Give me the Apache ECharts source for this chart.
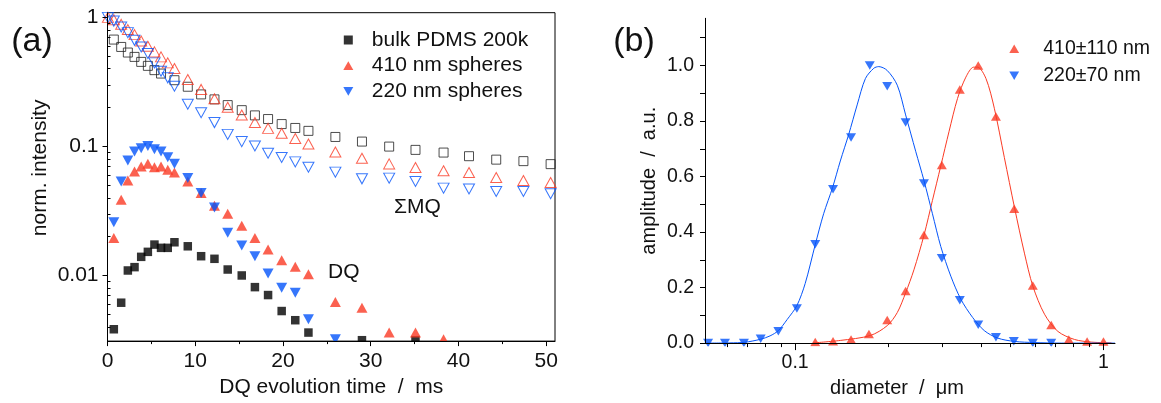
<!DOCTYPE html>
<html><head><meta charset="utf-8">
<script src="https://cdn.jsdelivr.net/npm/echarts@6/dist/echarts.min.js"></script>
<style>html,body{margin:0;padding:0;background:#fff}#c{width:1161px;height:403px}</style>
</head><body><div id="c"></div>
<script>
// ---------- panel (a): DQ build-up and sum-MQ decay ----------
const mqTime = [0.05,0.72,1.56,2.32,3.08,3.84,4.6,5.35,6.1,6.87,7.63,9.15,10.67,12.19,13.7,15.3,16.8,18.3,19.85,21.4,22.9,25.97,29.0,32.1,35.1,38.3,41.2,44.3,47.4,50.5];
const mqBulk = [null,0.673,0.590,0.534,0.494,0.452,0.421,0.390,0.367,null,0.326,0.290,0.253,0.2315,0.209,0.191,0.174,0.163,0.149,0.139,0.132,0.1184,0.109,0.0997,0.094,0.0896,0.084,0.079,0.0769,0.0729];
const mq410 = [1.0,0.96,0.883,0.804,0.735,0.656,0.597,0.540,0.494,0.444,0.402,0.330,0.2765,0.234,0.201,0.175,0.153,0.138,0.1265,0.115,0.1045,0.0904,0.081,0.0732,0.0686,0.0647,0.0628,0.0574,0.0544,0.0525];
const mq220 = [1.0,0.936,0.842,0.762,0.664,0.590,0.525,0.444,0.383,0.340,0.293,0.212,0.1824,0.153,0.124,0.109,0.1009,0.0886,0.082,0.0759,0.069,0.0632,0.0561,0.0568,0.0535,0.0475,0.0468,0.0448,0.0448,0.043];

const dqTime = [0.72,1.56,2.32,3.08,3.84,4.6,5.35,6.1,6.87,7.63,9.15,10.67,12.19,13.7,15.3,16.8,18.3,19.85,21.4,22.9,25.97,29.0,32.1,35.1,38.3];
const dqBulk = [0.00383,0.00615,0.01093,0.0116,0.01394,0.01524,0.01735,0.01637,0.01637,0.01808,0.01683,0.0141,0.01346,0.01112,0.0100,0.00812,0.00705,0.0053,0.0045,0.00361,null,0.00315,null,0.00315,null];
const dq410 = [0.01955,0.0386,0.0544,0.0639,0.0698,0.0733,0.0691,0.0698,0.0659,0.0628,0.0535,0.0435,0.0347,0.0301,0.0243,0.01955,0.0159,0.0131,0.01167,0.0102,0.00622,0.00563,0.00361,0.00361,0.0032];
const dq220 = [0.0258,0.0535,0.0777,0.0912,0.0969,0.1009,0.0951,0.0912,0.0826,0.0733,0.0568,0.0435,0.0337,0.0214,0.0171,0.0141,0.01036,0.00803,0.00734,0.00457,0.0032,null,null,null,null];

const aXMajor = [0,10,20,30,40,50];
const aXMinor = [5,15,25,35,45];
const aYMajor = [0.01,0.1,1];
const aYMinor = [0.004,0.005,0.006,0.007,0.008,0.009,0.02,0.03,0.04,0.05,0.06,0.07,0.08,0.09,0.2,0.3,0.4,0.5,0.6,0.7,0.8,0.9];

// ---------- panel (b): size distributions ----------
const dBlue = [0.0522,0.0592,0.0682,0.0773,0.0882,0.1013,0.1162,0.1327,0.1518,0.1746,0.1989,0.2282,0.2617,0.299,0.342,0.3925,0.448,0.512,0.590,0.677];
const ampBlue = [0,0,0,0.0153,0.0427,0.1246,0.356,0.554,0.741,1.0,0.925,0.795,0.575,0.306,0.154,0.0665,0.0214,0.007,0,0];
const dRed = [0.1162,0.1327,0.1518,0.1735,0.1989,0.2282,0.2617,0.299,0.342,0.3925,0.448,0.5135,0.590,0.677,0.772,0.885,1.0];
const ampRed = [0.0036,0.0071,0.0132,0.033,0.083,0.1875,0.389,0.642,0.9135,1.0,0.816,0.484,0.2075,0.065,0.013,0.006,0.006];

const fitBlueD = [0.0509,0.0614,0.0687,0.0773,0.0829,0.0882,0.0942,0.1013,0.1078,0.1162,0.1237,0.1323,0.1401,0.1491,0.1589,0.1690,0.1799,0.1867,0.1989,0.2144,0.2282,0.2460,0.2618,0.2788,0.2967,0.3198,0.3447,0.3763,0.4106,0.4540,0.5142,0.5974,0.730,1.09];
const fitBlueA = [0,0.0007,0.003,0.014,0.026,0.045,0.085,0.135,0.215,0.355,0.466,0.561,0.656,0.751,0.858,0.953,0.990,0.996,0.982,0.929,0.822,0.691,0.585,0.466,0.348,0.241,0.158,0.0925,0.045,0.018,0.006,0.002,0,0];
const fitRedD = [0.1144,0.1401,0.1754,0.1989,0.2144,0.2282,0.2428,0.2618,0.2788,0.2967,0.3157,0.3362,0.3578,0.3792,0.3907,0.4158,0.4426,0.4771,0.5142,0.5542,0.5902,0.6439,0.7118,0.8061,0.914,1.062];
const fitRedA = [0.0007,0.0096,0.0274,0.063,0.110,0.181,0.264,0.389,0.514,0.638,0.763,0.881,0.958,0.994,0.994,0.953,0.846,0.668,0.490,0.324,0.205,0.104,0.042,0.013,0.0036,0.0007];

const bXMajor = [0.1,1];
const bXMinor = [0.06,0.07,0.08,0.09,0.2,0.3,0.4,0.5,0.6,0.7,0.8,0.9];
const bYTicks = [0,0.1,0.2,0.3,0.4,0.5,0.6,0.7,0.8,0.9,1.0,1.1];
const bYLabels = [0,0.2,0.4,0.6,0.8,1.0];

// ---------- styling ----------
const FONT = 'Liberation Sans';
const TXT = '#111';
const RED = '#fa3a24';
const BLUE = '#0454fa';
const SQ = 'path://M0,0L10,0L10,10L0,10Z';
const UP = 'path://M5,0L10,8.66L0,8.66Z';
const DOWN = 'path://M0,0L10,0L5,8.66Z';

function pairs(xs, ys) {
  const out = [];
  xs.forEach((x, i) => { if (ys[i] !== null && ys[i] !== undefined) out.push([x, ys[i]]); });
  return out;
}
const labA = {fontFamily: FONT, fontSize: 21, color: TXT};
const labB = {fontFamily: FONT, fontSize: 19.5, color: TXT};
const nameB = {fontFamily: FONT, fontSize: 20, color: TXT};
const axLine = {show: true, onZero: false, lineStyle: {color: '#000', width: 1}};
const tickStyle = {color: '#000', width: 1};

const chart = echarts.init(document.getElementById('c'), null, {renderer: 'canvas'});
const option = {
  animation: false,
  backgroundColor: '#fff',
  textStyle: {fontFamily: FONT},
  grid: [
    {left: 107.5, top: 12.7, width: 447.5, height: 328.8, show: true, borderColor: '#000', borderWidth: 1, backgroundColor: 'transparent'},
    {left: 705, top: 18.3, width: 410, height: 327.4, show: false}
  ],
  xAxis: [
    {gridIndex: 0, type: 'value', min: 0, max: 51, position: 'bottom', z: 60,
      axisLine: axLine,
      axisTick: {show: true, inside: false, length: 5, customValues: aXMajor, lineStyle: tickStyle},
      axisLabel: Object.assign({customValues: aXMajor, margin: 10}, labA),
      splitLine: {show: false},
      name: 'DQ evolution time  /  ms', nameLocation: 'middle', nameGap: 30, nameTextStyle: labA},
    {gridIndex: 0, type: 'value', min: 0, max: 51, position: 'bottom', z: 60,
      axisLine: {show: false, onZero: false},
      axisTick: {show: true, inside: false, length: 3, customValues: aXMinor, lineStyle: tickStyle},
      axisLabel: {show: false}, splitLine: {show: false}},
    {gridIndex: 1, type: 'log', logBase: 10, min: 0.051, max: 1.09, position: 'bottom', z: 60,
      axisLine: axLine,
      axisTick: {show: true, inside: false, length: 7, customValues: bXMajor, lineStyle: tickStyle},
      axisLabel: Object.assign({customValues: bXMajor, margin: 10, formatter: v => String(v)}, labB),
      splitLine: {show: false}, minorTick: {show: false},
      name: 'diameter  /  μm', nameLocation: 'middle', nameGap: 28,
      nameTextStyle: Object.assign({padding: [0, 26, 0, 0]}, nameB)},
    {gridIndex: 1, type: 'log', logBase: 10, min: 0.051, max: 1.09, position: 'bottom', z: 60,
      axisLine: {show: false, onZero: false},
      axisTick: {show: true, inside: false, length: 4, customValues: bXMinor, lineStyle: tickStyle},
      axisLabel: {show: false}, splitLine: {show: false}}
  ],
  yAxis: [
    {gridIndex: 0, type: 'log', logBase: 10, min: 0.0031, max: 1.087, position: 'left', z: 60,
      axisLine: axLine,
      axisTick: {show: true, inside: false, length: 5, customValues: aYMajor, lineStyle: tickStyle},
      axisLabel: Object.assign({customValues: aYMajor, margin: 9, formatter: v => String(v)}, labA),
      splitLine: {show: false}, minorTick: {show: false},
      name: 'norm. intensity', nameLocation: 'middle', nameGap: 57,
      nameTextStyle: Object.assign({padding: [0, 0, 0, 18]}, labA)},
    {gridIndex: 0, type: 'log', logBase: 10, min: 0.0031, max: 1.087, position: 'left', z: 60,
      axisLine: {show: false, onZero: false},
      axisTick: {show: true, inside: true, length: 3, customValues: aYMinor, lineStyle: tickStyle},
      axisLabel: {show: false}, splitLine: {show: false}},
    {gridIndex: 1, type: 'value', min: 0, max: 1.17, position: 'left', z: 60,
      axisLine: axLine,
      axisTick: {show: true, inside: false, length: 5, customValues: bYTicks, lineStyle: tickStyle},
      axisLabel: Object.assign({customValues: bYLabels, margin: 11, formatter: v => v.toFixed(1)}, labB),
      splitLine: {show: false},
      name: 'amplitude  /  a.u.', nameLocation: 'middle', nameGap: 46, nameTextStyle: nameB}
  ],
  legend: [
    {data: ['bulk PDMS 200k', '410 nm spheres', '220 nm spheres'], orient: 'vertical',
      left: 343.3, top: 29.5, padding: 0, itemWidth: 10, itemHeight: 9, itemGap: 4.7,
      selectedMode: false, textStyle: Object.assign({padding: [0, 0, 0, 13.5]}, labA)},
    {data: ['410±110 nm', '220±70 nm'], orient: 'vertical',
      left: 1009.3, top: 38.8, padding: 0, itemWidth: 10, itemHeight: 8.5, itemGap: 7,
      selectedMode: false, textStyle: Object.assign({padding: [0, 0, 0, 19]}, labB)}
  ],
  series: [
    {name: 'ΣMQ bulk PDMS 200k', type: 'scatter', xAxisIndex: 0, yAxisIndex: 0, data: pairs(mqTime, mqBulk),
      symbol: SQ, symbolSize: 9, itemStyle: {color: 'rgba(255,255,255,0)', borderColor: '#222', borderWidth: 1}},
    {name: 'ΣMQ 410 nm spheres', type: 'scatter', xAxisIndex: 0, yAxisIndex: 0, data: pairs(mqTime, mq410),
      symbol: UP, symbolSize: [11, 10], itemStyle: {color: 'rgba(255,255,255,0)', borderColor: RED, borderWidth: 1}},
    {name: 'ΣMQ 220 nm spheres', type: 'scatter', xAxisIndex: 0, yAxisIndex: 0, data: pairs(mqTime, mq220),
      symbol: DOWN, symbolSize: [11, 10], itemStyle: {color: 'rgba(255,255,255,0)', borderColor: BLUE, borderWidth: 1}},
    {name: 'bulk PDMS 200k', type: 'scatter', xAxisIndex: 0, yAxisIndex: 0, data: pairs(dqTime, dqBulk),
      symbol: SQ, symbolSize: 8.5, itemStyle: {color: '#000'}},
    {name: '410 nm spheres', type: 'scatter', xAxisIndex: 0, yAxisIndex: 0, data: pairs(dqTime, dq410),
      symbol: UP, symbolSize: [11, 10], itemStyle: {color: RED}},
    {name: '220 nm spheres', type: 'scatter', xAxisIndex: 0, yAxisIndex: 0, data: pairs(dqTime, dq220),
      symbol: DOWN, symbolSize: [11, 10], itemStyle: {color: BLUE}},
    {name: 'fit 410', type: 'line', xAxisIndex: 2, yAxisIndex: 2, data: pairs(fitRedD, fitRedA),
      showSymbol: false, smooth: 0.3, lineStyle: {color: RED, width: 1}, itemStyle: {color: RED}, z: 2},
    {name: 'fit 220', type: 'line', xAxisIndex: 2, yAxisIndex: 2, data: pairs(fitBlueD, fitBlueA),
      showSymbol: false, smooth: 0.3, lineStyle: {color: BLUE, width: 1}, itemStyle: {color: BLUE}, z: 2},
    {name: '410±110 nm', type: 'scatter', xAxisIndex: 2, yAxisIndex: 2, data: pairs(dRed, ampRed),
      symbol: UP, symbolSize: [10, 8.5], itemStyle: {color: RED}, z: 3},
    {name: '220±70 nm', type: 'scatter', xAxisIndex: 2, yAxisIndex: 2, data: pairs(dBlue, ampBlue),
      symbol: DOWN, symbolSize: [10, 8.5], itemStyle: {color: BLUE}, z: 3}
  ],
  graphic: {
    elements: [
      {type: 'rect', z: 50, shape: {x: 108, y: 342, width: 447, height: 8}, style: {fill: '#fff'}, silent: true},
      {type: 'rect', z: 50, shape: {x: 706, y: 346.4, width: 409, height: 8}, style: {fill: '#fff'}, silent: true},
      {type: 'text', z: 70, x: 32, y: 42, style: {text: '(a)', fontSize: 34, fontFamily: FONT, fill: TXT, textAlign: 'center', textVerticalAlign: 'middle'}},
      {type: 'text', z: 70, x: 634, y: 42, style: {text: '(b)', fontSize: 34, fontFamily: FONT, fill: TXT, textAlign: 'center', textVerticalAlign: 'middle'}},
      {type: 'text', z: 70, x: 417.5, y: 207, style: {text: 'ΣMQ', fontSize: 21, fontFamily: FONT, fill: TXT, textAlign: 'center', textVerticalAlign: 'middle'}},
      {type: 'text', z: 70, x: 328, y: 272.5, style: {text: 'DQ', fontSize: 21, fontFamily: FONT, fill: TXT, textAlign: 'left', textVerticalAlign: 'middle'}}
    ]
  }
};
chart.setOption(option);
</script></body></html>
